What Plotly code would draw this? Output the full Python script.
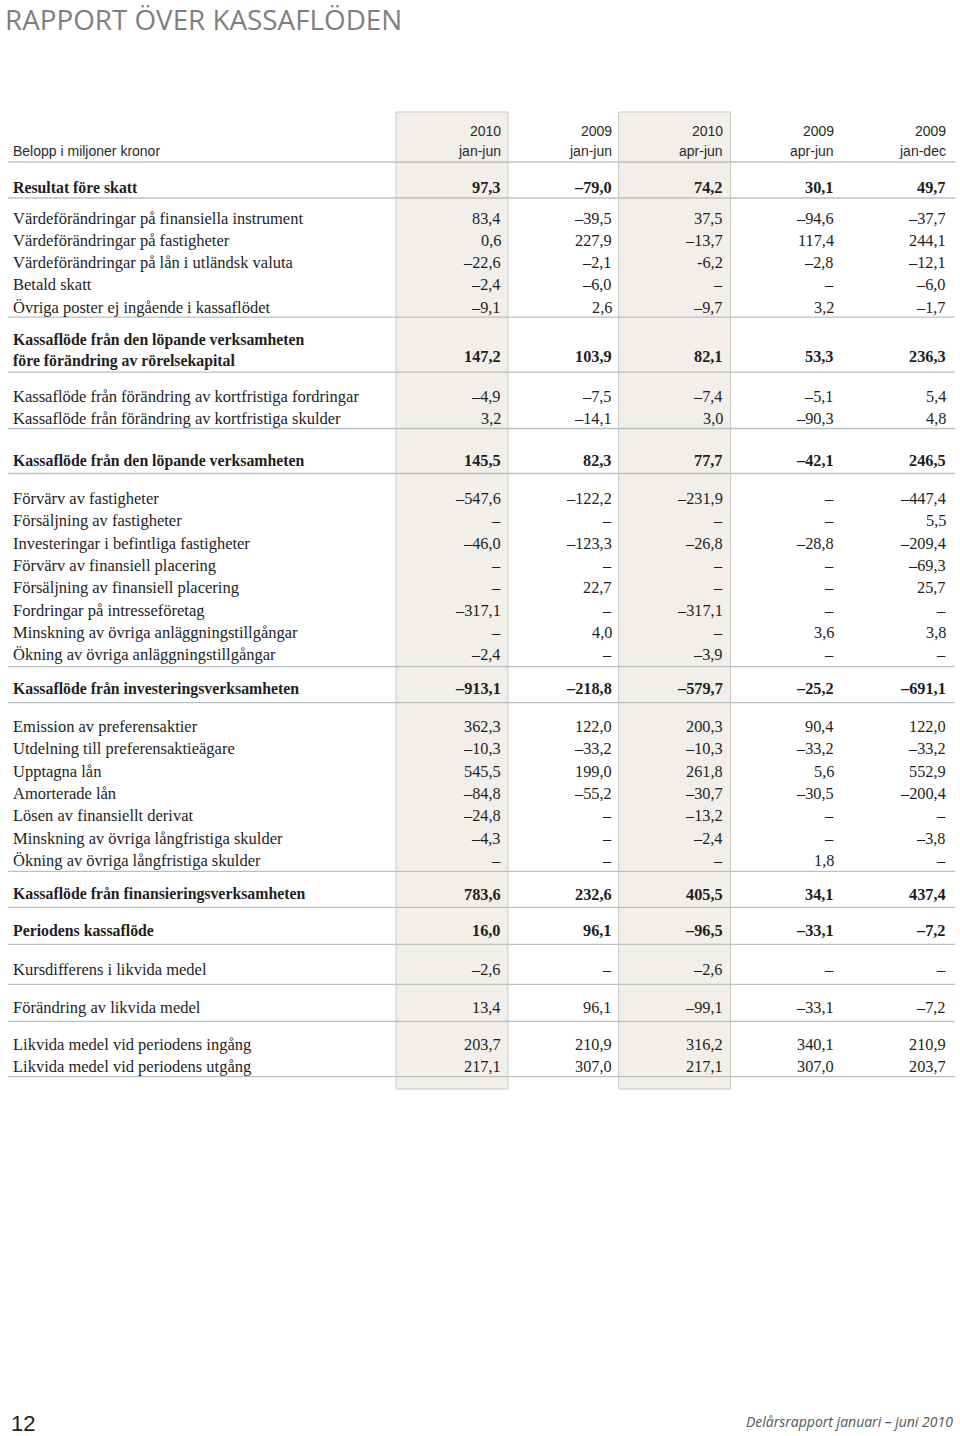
import plotly.graph_objects as go

# ---------------- data ----------------
title = "RAPPORT ÖVER KASSAFLÖDEN"
unit_label = "Belopp i miljoner kronor"
col_years = ["2010", "2009", "2010", "2009", "2009"]
col_periods = ["jan-jun", "jan-jun", "apr-jun", "apr-jun", "jan-dec"]
shaded_cols = [0, 2]
footer_page = "12"
footer_text = "Delårsrapport januari – juni 2010"

labels = [
    "Resultat före skatt",
    "Värdeförändringar på finansiella instrument",
    "Värdeförändringar på fastigheter",
    "Värdeförändringar på lån i utländsk valuta",
    "Betald skatt",
    "Övriga poster ej ingående i kassaflödet",
    "Kassaflöde från den löpande verksamheten<br>före förändring av rörelsekapital",
    "Kassaflöde från förändring av kortfristiga fordringar",
    "Kassaflöde från förändring av kortfristiga skulder",
    "Kassaflöde från den löpande verksamheten",
    "Förvärv av fastigheter",
    "Försäljning av fastigheter",
    "Investeringar i befintliga fastigheter",
    "Förvärv av finansiell placering",
    "Försäljning av finansiell placering",
    "Fordringar på intresseföretag",
    "Minskning av övriga anläggningstillgångar",
    "Ökning av övriga anläggningstillgångar",
    "Kassaflöde från investeringsverksamheten",
    "Emission av preferensaktier",
    "Utdelning till preferensaktieägare",
    "Upptagna lån",
    "Amorterade lån",
    "Lösen av finansiellt derivat",
    "Minskning av övriga långfristiga skulder",
    "Ökning av övriga långfristiga skulder",
    "Kassaflöde från finansieringsverksamheten",
    "Periodens kassaflöde",
    "Kursdifferens i likvida medel",
    "Förändring av likvida medel",
    "Likvida medel vid periodens ingång",
    "Likvida medel vid periodens utgång",
]

bold_rows = [0, 6, 9, 18, 26, 27]

jan_jun_2010 = ["97,3", "83,4", "0,6", "–22,6", "–2,4", "–9,1", "147,2", "–4,9", "3,2", "145,5",
                "–547,6", "–", "–46,0", "–", "–", "–317,1", "–", "–2,4", "–913,1",
                "362,3", "–10,3", "545,5", "–84,8", "–24,8", "–4,3", "–", "783,6",
                "16,0", "–2,6", "13,4", "203,7", "217,1"]
jan_jun_2009 = ["–79,0", "–39,5", "227,9", "–2,1", "–6,0", "2,6", "103,9", "–7,5", "–14,1", "82,3",
                "–122,2", "–", "–123,3", "–", "22,7", "–", "4,0", "–", "–218,8",
                "122,0", "–33,2", "199,0", "–55,2", "–", "–", "–", "232,6",
                "96,1", "–", "96,1", "210,9", "307,0"]
apr_jun_2010 = ["74,2", "37,5", "–13,7", "-6,2", "–", "–9,7", "82,1", "–7,4", "3,0", "77,7",
                "–231,9", "–", "–26,8", "–", "–", "–317,1", "–", "–3,9", "–579,7",
                "200,3", "–10,3", "261,8", "–30,7", "–13,2", "–2,4", "–", "405,5",
                "–96,5", "–2,6", "–99,1", "316,2", "217,1"]
apr_jun_2009 = ["30,1", "–94,6", "117,4", "–2,8", "–", "3,2", "53,3", "–5,1", "–90,3", "–42,1",
                "–", "–", "–28,8", "–", "–", "–", "3,6", "–", "–25,2",
                "90,4", "–33,2", "5,6", "–30,5", "–", "–", "1,8", "34,1",
                "–33,1", "–", "–33,1", "340,1", "307,0"]
jan_dec_2009 = ["49,7", "–37,7", "244,1", "–12,1", "–6,0", "–1,7", "236,3", "5,4", "4,8", "246,5",
                "–447,4", "5,5", "–209,4", "–69,3", "25,7", "–", "3,8", "–", "–691,1",
                "122,0", "–33,2", "552,9", "–200,4", "–", "–3,8", "–", "437,4",
                "–7,2", "–", "–7,2", "210,9", "203,7"]
columns = [jan_jun_2010, jan_jun_2009, apr_jun_2010, apr_jun_2009, jan_dec_2009]

# row groups separated by rules
groups = [[0], [1, 2, 3, 4, 5], [6], [7, 8], [9], list(range(10, 18)), [18],
          list(range(19, 26)), [26], [27], [28], [29], [30, 31]]

# ---------------- layout / style ----------------
W, H = 960, 1436
header_rule = 162
gap_above = [25, 20, 33.5, 24, 32, 25, 22, 24, 23, 23, 25, 23, 23]
gap_below = [11, 10, 21.5, 10, 13, 12, 14, 11, 13, 14, 15, 14, 10]
pitch = 22.3
col_right = [502.5 + 111.3 * i for i in range(5)]
shade_right = [508 + 111.3 * i for i in range(5)]
label_x = 10.5
rule_x0, rule_x1 = 8, 955
shade_top, shade_bottom = 112, 1089

serif = "Liberation Serif, Times New Roman, serif"
sans_narrow = "Liberation Sans Narrow, Arial Narrow, Liberation Sans, sans-serif"
txt = "#1e1e1e"
rule_col = "#b8c2c5"
shade_fill = "#f2eee9"
shade_line = "#cbc7c2"

row_y = [0.0] * len(labels)
rules = [header_rule]
y = header_rule
for g, ga, gb in zip(groups, gap_above, gap_below):
    first = y + ga
    for k, r in enumerate(g):
        row_y[r] = first + k * pitch
    y = row_y[g[-1]] + gb
    rules.append(y)

fig = go.Figure()
fig.add_trace(go.Scatter(x=[0, W], y=[0, H], mode="markers",
                         marker=dict(opacity=0), hoverinfo="skip", showlegend=False))

shapes = []
for c in shaded_cols:
    shapes.append(dict(type="rect", xref="x", yref="y", x0=shade_right[c] - 112, x1=shade_right[c],
                       y0=shade_top, y1=shade_bottom, fillcolor=shade_fill,
                       line=dict(color=shade_line, width=1), layer="below"))
for ry in rules:
    shapes.append(dict(type="line", xref="x", yref="y", x0=rule_x0, x1=rule_x1, y0=ry, y1=ry,
                       line=dict(color=rule_col, width=1.3)))

ann = []
ann.append(dict(x=3, y=18.5, text=title, xanchor="left", yanchor="middle", showarrow=False,
                font=dict(family="Open Sans, Noto Sans, sans-serif", size=27.8, color="#7f7f7f")))
ann.append(dict(x=label_x, y=151, text=unit_label, xanchor="left", yanchor="middle", showarrow=False,
                font=dict(family=sans_narrow, size=14, color="#2a2a2a")))
for c in range(5):
    ann.append(dict(x=col_right[c], y=131, text=col_years[c], xanchor="right", yanchor="middle",
                    showarrow=False, font=dict(family=sans_narrow, size=14, color="#2a2a2a")))
    ann.append(dict(x=col_right[c], y=151, text=col_periods[c], xanchor="right", yanchor="middle",
                    showarrow=False, font=dict(family=sans_narrow, size=14, color="#2a2a2a")))

for r, lab in enumerate(labels):
    b = r in bold_rows
    t = f"<b>{lab}</b>" if b else lab
    ann.append(dict(x=label_x, y=row_y[r], text=t, xanchor="left", yanchor="middle", align="left",
                    showarrow=False, font=dict(family=serif, size=15.8 if b else 16.5, color=txt)))
    vy = row_y[r] + (5.5 if "<br>" in lab else 0)
    for c in range(5):
        v = columns[c][r]
        tv = f"<b>{v}</b>" if b else v
        ann.append(dict(x=col_right[c], y=vy, text=tv, xanchor="right", yanchor="middle",
                        showarrow=False, font=dict(family=serif, size=16.3, color=txt)))

ann.append(dict(x=9, y=1423, text=footer_page, xanchor="left", yanchor="middle", showarrow=False,
                font=dict(family=sans_narrow, size=22, color="#222222")))
ann.append(dict(x=955, y=1421, text=f"<i>{footer_text}</i>", xanchor="right", yanchor="middle",
                showarrow=False, font=dict(family="Open Sans, Noto Sans, sans-serif", size=14, color="#555555")))

fig.update_layout(
    width=W, height=H, margin=dict(l=0, r=0, t=0, b=0),
    paper_bgcolor="white", plot_bgcolor="white",
    xaxis=dict(range=[0, W], visible=False, fixedrange=True),
    yaxis=dict(range=[H, 0], visible=False, fixedrange=True),
    shapes=shapes, annotations=ann, showlegend=False,
)
# remove the default page margin so the figure fills the window exactly; hide the mode bar
fig.write_html("out.html", config={"displayModeBar": False},
               post_script="document.body.style.margin='0';")
